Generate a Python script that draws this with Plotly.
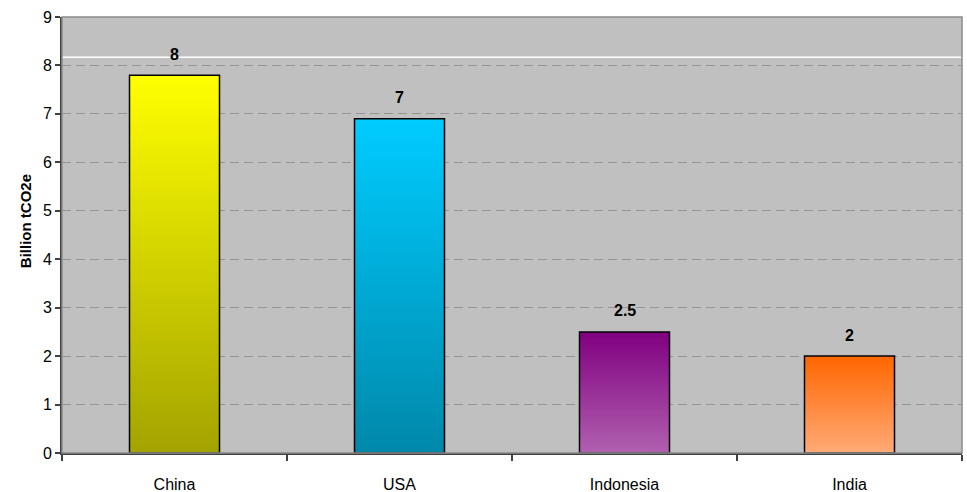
import plotly.graph_objects as go

categories = ["China", "USA", "Indonesia", "India"]
values = [7.8, 6.9, 2.5, 2.0]
value_labels = ["8", "7", "2.5", "2"]
bottom_colors = ["#A3A300", "#0088AA", "#B060B0", "#FFAA77"]
top_colors = ["#FFFF00", "#00CCFF", "#800080", "#FF6600"]
y_ticks = list(range(0, 10))
axis_title = "Billion tCO2e"

FONT = "Arial, Liberation Sans, sans-serif"
half_w = 0.2

fig = go.Figure()
for i, (cat, v) in enumerate(zip(categories, values)):
    fig.add_trace(go.Scatter(
        x=[i - half_w, i + half_w, i + half_w, i - half_w, i - half_w],
        y=[0, 0, v, v, 0],
        mode="lines",
        fill="toself",
        fillgradient=dict(type="vertical",
                          colorscale=[[0, bottom_colors[i]], [1, top_colors[i]]]),
        line=dict(color="#000000", width=1.5),
        hoverinfo="skip",
        showlegend=False,
        name=cat,
    ))

annotations = []
for i, (v, lab) in enumerate(zip(values, value_labels)):
    annotations.append(dict(
        x=i, y=v, xref="x", yref="y", text="<b>%s</b>" % lab,
        showarrow=False, yanchor="middle", yshift=21,
        font=dict(family=FONT, size=16, color="#000000"),
    ))
annotations.append(dict(
    x=-0.041, y=0.532, xref="paper", yref="paper", text="<b>%s</b>" % axis_title,
    textangle=-90, showarrow=False, xanchor="center", yanchor="middle",
    font=dict(family=FONT, size=15, color="#000000"),
))

fig.update_layout(
    width=967, height=492,
    margin=dict(l=62, r=5, t=17, b=39, autoexpand=False),
    paper_bgcolor="#FFFFFF",
    plot_bgcolor="#C0C0C0",
    annotations=annotations,
    shapes=[
        dict(type="line", xref="paper", yref="y", x0=0, x1=1, y0=8.17, y1=8.17,
             line=dict(color="#FFFFFF", width=1.5), layer="below"),
        dict(type="rect", xref="paper", yref="paper", x0=0, x1=1, y0=0, y1=1,
             line=dict(color="#8A8A8A", width=1.5), layer="above"),
    ],
    xaxis=dict(
        range=[-0.5, 3.5], automargin=False,
        tickmode="array", tickvals=list(range(len(categories))), ticktext=categories,
        ticks="", showgrid=False, zeroline=False,
        showline=True, linecolor="#404040", linewidth=2,
        tickfont=dict(family=FONT, size=16, color="#000000"),
        ticklabelstandoff=16,
        minor=dict(tickmode="array",
                   tickvals=[i - 0.5 for i in range(len(categories) + 1)],
                   ticks="outside", ticklen=6, tickcolor="#404040", tickwidth=1.5,
                   showgrid=False),
        fixedrange=True,
    ),
    yaxis=dict(
        range=[0, 9], automargin=False,
        tickmode="array", tickvals=y_ticks,
        ticks="outside", ticklen=5, tickcolor="#404040", tickwidth=1.5,
        showgrid=True, gridcolor="#959595", gridwidth=1, griddash="9px,5px",
        zeroline=False,
        showline=True, linecolor="#404040", linewidth=2,
        tickfont=dict(family=FONT, size=16, color="#000000"),
        fixedrange=True,
    ),
)

fig.write_html("out.html")
